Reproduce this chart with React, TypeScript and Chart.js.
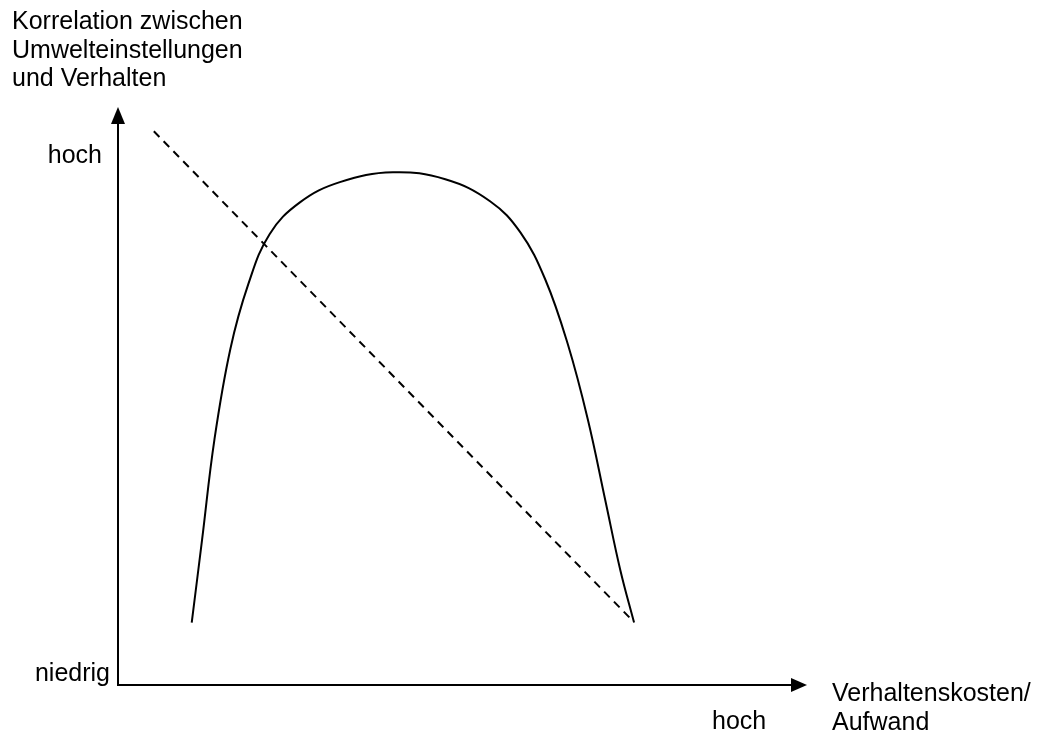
import React, { useEffect, useRef } from "react";
import { Chart, registerables } from "chart.js";

Chart.register(...registerables);

// Solid curve: Korrelation vs. Verhaltenskosten (relative units 0..100)
const curveX = [10.7, 12.2, 14.0, 16.3, 18.9, 22.0, 26.4, 32.2, 39.9, 47.5, 54.0, 58.4, 62.0, 65.3, 68.2, 70.7, 72.9, 74.9];
const curveY = [10.8, 25.1, 42.5, 58.1, 69.3, 78.0, 83.5, 87.0, 88.7, 87.5, 83.7, 78.3, 70.2, 58.9, 45.9, 32.1, 19.9, 10.8];

// Dashed straight line
const dashX = [5.2, 74.3];
const dashY = [95.8, 11.6];

// Texts
const yAxisTitle = ["Korrelation zwischen", "Umwelteinstellungen", "und Verhalten"];
const yTickLabels = ["hoch", "niedrig"];
const xTickLabels = ["hoch"];
const xAxisTitle = ["Verhaltenskosten/", "Aufwand"];

const FONT = '25px "Liberation Sans", Arial, sans-serif';

const axesPlugin = {
  id: "axesArrows",
  afterDraw(chart: any) {
    const { ctx, chartArea } = chart;
    const left = chartArea.left;
    const bottom = chartArea.bottom;
    const top = chartArea.top;
    const right = chartArea.right;
    ctx.save();
    ctx.strokeStyle = "#000";
    ctx.fillStyle = "#000";
    ctx.lineWidth = 2;
    // y axis
    ctx.beginPath();
    ctx.moveTo(left, bottom + 1);
    ctx.lineTo(left, top + 14);
    ctx.stroke();
    ctx.beginPath();
    ctx.moveTo(left, top);
    ctx.lineTo(left - 7, top + 17);
    ctx.lineTo(left + 7, top + 17);
    ctx.closePath();
    ctx.fill();
    // x axis
    ctx.beginPath();
    ctx.moveTo(left - 1, bottom);
    ctx.lineTo(right - 14, bottom);
    ctx.stroke();
    ctx.beginPath();
    ctx.moveTo(right, bottom);
    ctx.lineTo(right - 16, bottom - 7);
    ctx.lineTo(right - 16, bottom + 7);
    ctx.closePath();
    ctx.fill();

    // texts
    ctx.font = FONT;
    ctx.textBaseline = "alphabetic";
    ctx.textAlign = "left";
    yAxisTitle.forEach((t, i) => ctx.fillText(t, 12, 29 + i * 28.5));
    ctx.textAlign = "right";
    ctx.fillText(yTickLabels[0], left - 16, 163);
    ctx.fillText(yTickLabels[1], left - 8, 681);
    ctx.textAlign = "left";
    ctx.fillText(xTickLabels[0], 712, 729);
    xAxisTitle.forEach((t, i) => ctx.fillText(t, 832, 701 + i * 28.5));
    ctx.restore();
  },
};

export default function App() {
  const ref = useRef<HTMLCanvasElement | null>(null);
  useEffect(() => {
    if (!ref.current) return;
    const chart = new Chart(ref.current, {
      type: "scatter",
      data: {
        datasets: [
          {
            data: curveX.map((x, i) => ({ x, y: curveY[i] })),
            showLine: true,
            borderColor: "#000",
            borderWidth: 2,
            pointRadius: 0,
            tension: 0.4,
            fill: false,
          },
          {
            data: dashX.map((x, i) => ({ x, y: dashY[i] })),
            showLine: true,
            borderColor: "#000",
            borderWidth: 2,
            borderDash: [8, 6],
            pointRadius: 0,
            fill: false,
          },
        ],
      },
      options: {
        responsive: false,
        animation: false,
        events: [],
        layout: { padding: { left: 118, top: 107, right: 230, bottom: 46 } },
        plugins: { legend: { display: false }, tooltip: { enabled: false }, title: { display: false } },
        scales: {
          x: { type: "linear", min: 0, max: 100, display: false },
          y: { type: "linear", min: 0, max: 100, display: false },
        },
      },
      plugins: [axesPlugin],
    });
    return () => chart.destroy();
  }, []);
  return (
    <div style={{ position: "absolute", left: 0, top: 0, width: 1037, height: 731, background: "#fff" }}>
      <canvas ref={ref} width={1037} height={731} style={{ display: "block" }} />
    </div>
  );
}
